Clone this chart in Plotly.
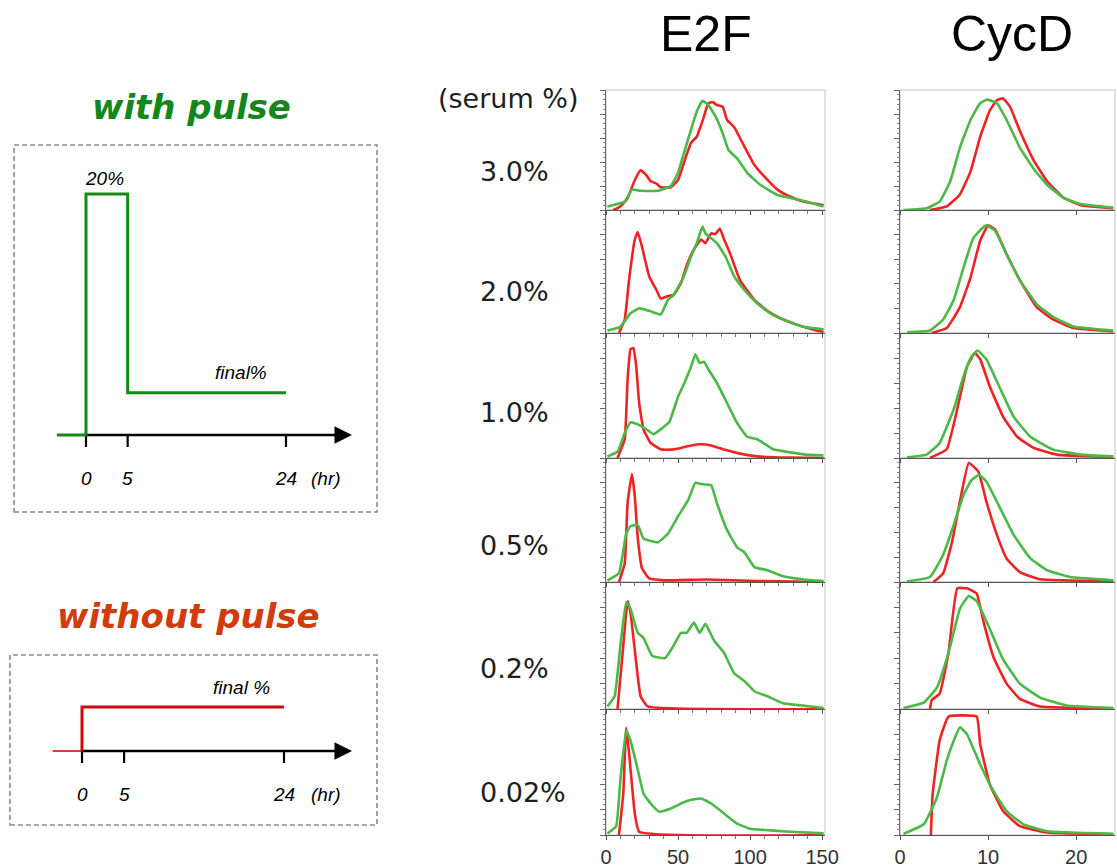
import plotly.graph_objects as go

W, H = 1117, 867

RED = "#ee2424"
GREEN = "#4cb848"
SCHEME_GREEN = "#138a13"
SCHEME_RED = "#cc0a0a"

# ---------------------------------------------------------------- data
serum_labels = ["3.0%", "2.0%", "1.0%", "0.5%", "0.2%", "0.02%"]
e2f_ticks = [0, 50, 100, 150]
cycd_ticks = [0, 10, 20]
time_ticks = [0, 5, 24]            # hr
pulse_level = 20                   # serum % during pulse
final_level = 3.5                  # schematic height of "final %"
pre_time = -3.5                    # start of drawn baseline (hr)
pulse_end = 5                      # hr
end_time = 24                      # hr

# E2F reporter histograms (normalised counts), red = without pulse, green = with pulse
e2f_30_red_x = [5, 10, 15, 20, 24, 28, 31, 35, 38, 45, 50, 54, 59, 63, 68, 71, 74, 77, 81, 84, 89, 96, 103, 109, 119, 128, 137, 151]
e2f_30_red_y = [0.0, 0.03, 0.1, 0.25, 0.33, 0.29, 0.24, 0.22, 0.19, 0.19, 0.25, 0.39, 0.56, 0.61, 0.78, 0.89, 0.90, 0.875, 0.86, 0.75, 0.69, 0.53, 0.375, 0.29, 0.17, 0.11, 0.07, 0.04]
e2f_30_green_x = [1, 13, 18, 24, 36, 45, 50, 54, 59, 63, 67, 71, 76, 81, 85, 91, 98, 107, 119, 128, 139, 151]
e2f_30_green_y = [0.03, 0.07, 0.17, 0.16, 0.16, 0.2, 0.31, 0.47, 0.67, 0.82, 0.91, 0.875, 0.78, 0.64, 0.5, 0.43, 0.31, 0.21, 0.125, 0.1, 0.07, 0.03]

e2f_20_red_x = [9, 13, 16, 20, 22, 25, 30, 35, 38, 43, 47, 52, 56, 61, 66, 69, 73, 76, 79, 82, 86, 93, 103, 112, 121, 132, 146, 151]
e2f_20_red_y = [0.0, 0.11, 0.43, 0.76, 0.82, 0.70, 0.46, 0.35, 0.28, 0.30, 0.31, 0.405, 0.55, 0.68, 0.76, 0.73, 0.81, 0.805, 0.85, 0.76, 0.65, 0.43, 0.27, 0.18, 0.12, 0.07, 0.02, 0.01]
e2f_20_green_x = [1, 10, 17, 23, 30, 38, 43, 47, 54, 59, 63, 67, 69, 73, 77, 83, 89, 96, 105, 114, 126, 137, 151]
e2f_20_green_y = [0.02, 0.05, 0.16, 0.2, 0.18, 0.15, 0.27, 0.31, 0.46, 0.62, 0.73, 0.865, 0.81, 0.77, 0.73, 0.62, 0.46, 0.35, 0.24, 0.16, 0.095, 0.05, 0.03]

e2f_10_red_x = [8, 13, 15, 17, 19, 21, 23, 26, 31, 38, 45, 52, 59, 66, 73, 82, 93, 105, 128, 151]
e2f_10_red_y = [0.0, 0.15, 0.63, 0.87, 0.88, 0.73, 0.44, 0.23, 0.12, 0.07, 0.067, 0.08, 0.10, 0.11, 0.10, 0.067, 0.035, 0.013, 0.003, 0.0]
e2f_10_green_x = [1, 8, 13, 17, 22, 28, 33, 38, 44, 50, 54, 59, 62, 65, 68, 71, 77, 84, 91, 98, 105, 116, 128, 139, 151]
e2f_10_green_y = [0.013, 0.05, 0.2, 0.285, 0.27, 0.23, 0.19, 0.23, 0.29, 0.49, 0.59, 0.73, 0.83, 0.76, 0.77, 0.71, 0.6, 0.44, 0.28, 0.17, 0.15, 0.07, 0.045, 0.027, 0.02]

e2f_05_red_x = [9, 13, 15, 18, 20, 22, 25, 30, 40, 70, 105, 151]
e2f_05_red_y = [0.0, 0.15, 0.64, 0.87, 0.69, 0.36, 0.11, 0.03, 0.013, 0.02, 0.008, 0.0]
e2f_05_green_x = [1, 9, 14, 17, 22, 26, 36, 43, 50, 57, 62, 66, 73, 77, 84, 91, 96, 103, 112, 123, 137, 151]
e2f_05_green_y = [0.013, 0.07, 0.39, 0.45, 0.46, 0.35, 0.32, 0.39, 0.53, 0.66, 0.80, 0.79, 0.78, 0.635, 0.42, 0.28, 0.24, 0.12, 0.095, 0.046, 0.02, 0.008]

e2f_02_red_x = [8, 12, 15, 17, 21, 24, 29, 151]
e2f_02_red_y = [0.0, 0.5, 0.85, 0.76, 0.36, 0.1, 0.02, 0.0]
e2f_02_green_x = [1, 6, 10, 14, 17, 22, 26, 32, 41, 47, 52, 56, 61, 65, 69, 75, 82, 89, 96, 103, 112, 123, 139, 151]
e2f_02_green_y = [0.02, 0.1, 0.5, 0.84, 0.79, 0.6, 0.56, 0.42, 0.40, 0.5, 0.6, 0.6, 0.68, 0.6, 0.67, 0.54, 0.44, 0.28, 0.22, 0.14, 0.1, 0.045, 0.024, 0.008]

e2f_002_red_x = [9, 12, 14, 16, 20, 23, 151]
e2f_002_red_y = [0.0, 0.33, 0.85, 0.65, 0.17, 0.026, 0.0]
e2f_002_green_x = [1, 7, 10, 14, 17, 22, 26, 31, 37, 45, 54, 59, 66, 73, 82, 91, 100, 110, 128, 151]
e2f_002_green_y = [0.013, 0.066, 0.44, 0.83, 0.75, 0.52, 0.33, 0.25, 0.185, 0.21, 0.26, 0.28, 0.29, 0.25, 0.17, 0.09, 0.05, 0.04, 0.026, 0.013]

# CycD reporter histograms
cycd_30_red_x = [3.4, 5.3, 6.8, 8, 9.1, 10.2, 11, 11.7, 12.5, 13.6, 15.2, 16.7, 18.6, 20.5, 24.2]
cycd_30_red_y = [0.0, 0.03, 0.13, 0.32, 0.61, 0.83, 0.915, 0.93, 0.86, 0.66, 0.41, 0.24, 0.1, 0.04, 0.014]
cycd_30_green_x = [0.4, 3, 4.5, 5.7, 6.8, 8, 9.1, 9.9, 11, 12.1, 13.6, 15.2, 16.7, 18.6, 20.5, 24.2]
cycd_30_green_y = [0.0, 0.014, 0.07, 0.24, 0.52, 0.75, 0.89, 0.92, 0.89, 0.75, 0.52, 0.34, 0.21, 0.1, 0.05, 0.02]

cycd_20_red_x = [3.6, 5.3, 6.8, 8, 9.1, 10, 10.8, 12.1, 13.6, 15.5, 17.4, 19.7, 24.2]
cycd_20_red_y = [0.0, 0.04, 0.21, 0.45, 0.75, 0.875, 0.84, 0.64, 0.43, 0.21, 0.11, 0.04, 0.013]
cycd_20_green_x = [0.8, 3.4, 4.9, 6.1, 7.2, 8.3, 9.3, 9.8, 10.8, 12.1, 13.6, 15.5, 17.4, 19.7, 24.2]
cycd_20_green_y = [0.005, 0.02, 0.11, 0.27, 0.53, 0.77, 0.85, 0.875, 0.83, 0.64, 0.43, 0.235, 0.13, 0.053, 0.02]

cycd_10_red_x = [3.4, 5.3, 6.4, 7.6, 8.5, 9.1, 10.2, 11.7, 13.3, 15.2, 17.8, 24.2]
cycd_10_red_y = [0.0, 0.07, 0.36, 0.73, 0.84, 0.79, 0.57, 0.33, 0.17, 0.08, 0.027, 0.008]
cycd_10_green_x = [0.8, 3, 4.5, 6.1, 7.2, 8.1, 8.8, 9.8, 11.4, 12.9, 14.8, 17.4, 20.5, 24.2]
cycd_10_green_y = [0.005, 0.027, 0.12, 0.39, 0.65, 0.81, 0.86, 0.79, 0.55, 0.33, 0.17, 0.067, 0.027, 0.013]

cycd_05_red_x = [3.8, 4.9, 5.9, 6.8, 7.8, 8.9, 9.8, 11, 12.1, 13.6, 15.9, 24.2]
cycd_05_red_y = [0.0, 0.07, 0.32, 0.65, 0.96, 0.89, 0.65, 0.38, 0.19, 0.08, 0.022, 0.005]
cycd_05_green_x = [0.8, 3.4, 4.9, 6.1, 7.2, 8.1, 9, 9.8, 11.4, 12.9, 14.8, 16.7, 19.3, 24.2]
cycd_05_green_y = [0.005, 0.04, 0.22, 0.46, 0.70, 0.82, 0.865, 0.81, 0.59, 0.38, 0.19, 0.095, 0.04, 0.014]

cycd_02_red_x = [3.4, 3.6, 4.5, 5.5, 6.5, 7.6, 8.7, 9.5, 10.6, 12.1, 13.6, 15.9, 24.2]
cycd_02_red_y = [0.0, 0.07, 0.12, 0.44, 0.95, 0.95, 0.91, 0.68, 0.41, 0.2, 0.08, 0.02, 0.005]
cycd_02_green_x = [0.4, 2.7, 4.2, 5.5, 6.8, 7.8, 8.7, 10.2, 11.7, 13.6, 15.9, 18.9, 24.2]
cycd_02_green_y = [0.008, 0.05, 0.17, 0.44, 0.79, 0.89, 0.85, 0.63, 0.39, 0.2, 0.09, 0.027, 0.008]

cycd_002_red_x = [3.5, 3.7, 4.5, 5.5, 8.7, 9.1, 10.2, 11.7, 13.6, 16.7, 24.2]
cycd_002_red_y = [0.0, 0.32, 0.75, 0.94, 0.94, 0.72, 0.40, 0.19, 0.07, 0.02, 0.005]
cycd_002_green_x = [0.4, 2.7, 4.2, 5.3, 6.25, 6.8, 7.6, 9.1, 10.6, 12.1, 14, 16.7, 24.2]
cycd_002_green_y = [0.01, 0.085, 0.3, 0.59, 0.775, 0.855, 0.80, 0.56, 0.35, 0.19, 0.085, 0.03, 0.01]

e2f_rows = [
    (e2f_30_red_x, e2f_30_red_y, e2f_30_green_x, e2f_30_green_y),
    (e2f_20_red_x, e2f_20_red_y, e2f_20_green_x, e2f_20_green_y),
    (e2f_10_red_x, e2f_10_red_y, e2f_10_green_x, e2f_10_green_y),
    (e2f_05_red_x, e2f_05_red_y, e2f_05_green_x, e2f_05_green_y),
    (e2f_02_red_x, e2f_02_red_y, e2f_02_green_x, e2f_02_green_y),
    (e2f_002_red_x, e2f_002_red_y, e2f_002_green_x, e2f_002_green_y),
]
cycd_rows = [
    (cycd_30_red_x, cycd_30_red_y, cycd_30_green_x, cycd_30_green_y),
    (cycd_20_red_x, cycd_20_red_y, cycd_20_green_x, cycd_20_green_y),
    (cycd_10_red_x, cycd_10_red_y, cycd_10_green_x, cycd_10_green_y),
    (cycd_05_red_x, cycd_05_red_y, cycd_05_green_x, cycd_05_green_y),
    (cycd_02_red_x, cycd_02_red_y, cycd_02_green_x, cycd_02_green_y),
    (cycd_002_red_x, cycd_002_red_y, cycd_002_green_x, cycd_002_green_y),
]

# ---------------------------------------------------------------- layout helpers
ROW_EDGES = [90, 210, 333, 458, 582, 709, 835]   # pixel rows of the histogram grid
E2F_PX = (606, 825)
CYCD_PX = (900, 1115)
LABEL_FONT = "DejaVu Sans"
TICK_FONT = "Liberation Sans"


def xdom(a, b):
    return [a / W, b / W]


def ydom(top, bottom):
    return [1 - bottom / H, 1 - top / H]


def ax_names(n):
    return ("x" if n == 1 else f"x{n}"), ("y" if n == 1 else f"y{n}")


def layout_keys(n):
    return ("xaxis" if n == 1 else f"xaxis{n}"), ("yaxis" if n == 1 else f"yaxis{n}")


fig = go.Figure()
layout = {}
shapes = []
annotations = []


def add_panel(n, xpx, xrange, ticks, minor_dtick, row, curves):
    xn, yn = ax_names(n)
    xk, yk = layout_keys(n)
    rx, ry, gx, gy = curves
    line_kw = dict(width=2.6, shape="spline", smoothing=0.35)
    fig.add_trace(go.Scatter(x=rx, y=ry, xaxis=xn, yaxis=yn, mode="lines",
                             line=dict(color=RED, **line_kw), hoverinfo="skip", showlegend=False))
    fig.add_trace(go.Scatter(x=gx, y=gy, xaxis=xn, yaxis=yn, mode="lines",
                             line=dict(color=GREEN, **line_kw), hoverinfo="skip", showlegend=False))
    xa = dict(domain=xdom(*xpx), range=xrange, anchor=yn, showgrid=False, zeroline=False,
              showline=True, linecolor="#555", linewidth=1.2,
              ticks="outside", ticklen=4, tickwidth=1, tickcolor="#555",
              tickvals=ticks, ticktext=[str(t) for t in ticks],
              showticklabels=(row == 5), automargin=False,
              tickfont=dict(family=TICK_FONT, size=20, color="#333"),
              fixedrange=True)
    if minor_dtick:
        xa["minor"] = dict(ticks="outside", ticklen=2.5, tickcolor="#777", tick0=0, dtick=minor_dtick)
    ya = dict(domain=ydom(ROW_EDGES[row], ROW_EDGES[row + 1]), range=[0, 1], anchor=xn,
              showgrid=False, zeroline=False, showline=True, linecolor="#666", linewidth=1,
              ticks="outside", ticklen=5, tickwidth=1, tickcolor="#666", tick0=0, dtick=0.2,
              minor=dict(ticks="outside", ticklen=2.5, tickcolor="#888", tick0=0, dtick=0.04),
              showticklabels=False, automargin=False, fixedrange=True)
    layout[xk] = xa
    layout[yk] = ya
    shapes.append(dict(type="rect", xref=f"{xn} domain", yref=f"{yn} domain",
                       x0=0, x1=1, y0=0, y1=1, line=dict(color="#c4c4c4", width=1), layer="below"))


for i in range(6):
    add_panel(2 * i + 1, E2F_PX, [0, 152], e2f_ticks, 10, i, e2f_rows[i])
    add_panel(2 * i + 2, CYCD_PX, [0, 24.4], cycd_ticks, None, i, cycd_rows[i])

# ---------------------------------------------------------------- headers & serum labels
annotations.append(dict(text="E2F", x=706 / W, y=1 - 34 / H, xref="paper", yref="paper",
                        showarrow=False, xanchor="center", yanchor="middle",
                        font=dict(family=TICK_FONT, size=50, color="black")))
annotations.append(dict(text="CycD", x=1012 / W, y=1 - 34 / H, xref="paper", yref="paper",
                        showarrow=False, xanchor="center", yanchor="middle",
                        font=dict(family=TICK_FONT, size=50, color="black")))
annotations.append(dict(text="(serum %)", x=436 / W, y=1 - 98 / H, xref="paper", yref="paper",
                        showarrow=False, xanchor="left", yanchor="middle",
                        font=dict(family=LABEL_FONT, size=27, color="#1e1e1e")))
label_px_y = [171, 291, 412, 545, 668, 792]
for lab, ly in zip(serum_labels, label_px_y):
    annotations.append(dict(text=lab, x=478 / W, y=1 - ly / H, xref="paper", yref="paper",
                            showarrow=False, xanchor="left", yanchor="middle",
                            font=dict(family=LABEL_FONT, size=27, color="#1e1e1e")))

# ---------------------------------------------------------------- protocol schematics


def span(p_lo, p_hi, p_zero, px_per_unit):
    return [(p_lo - p_zero) / px_per_unit, (p_hi - p_zero) / px_per_unit]


def add_schematic(n, box, x_zero, x_24, y_axis_px, level_px, level_value, color,
                  path_x, path_y, thin_x, thin_y, level_text, title, title_color, title_px,
                  pulse_label):
    xn, yn = ax_names(n)
    xk, yk = layout_keys(n)
    left, top, right, bottom = box
    xppu = (x_24 - x_zero) / end_time
    yppu = (y_axis_px - level_px) / level_value
    layout[xk] = dict(domain=xdom(left, right), range=span(left, right, x_zero, xppu),
                      anchor=yn, visible=False, fixedrange=True)
    layout[yk] = dict(domain=ydom(top, bottom),
                      range=[(y_axis_px - bottom) / yppu, (y_axis_px - top) / yppu],
                      anchor=xn, visible=False, fixedrange=True)
    shapes.append(dict(type="rect", xref=f"{xn} domain", yref=f"{yn} domain",
                       x0=0, x1=1, y0=0, y1=1,
                       line=dict(color="#8c8c8c", width=1.6, dash="5px,3px")))
    tick_down = 12 / yppu
    tx, ty = [], []
    for t in time_ticks:
        tx += [t, t, None]
        ty += [0, -tick_down, None]
    arrow_tip = (352 - x_zero) / xppu
    fig.add_trace(go.Scatter(x=[0, arrow_tip - 0.6], y=[0, 0], xaxis=xn, yaxis=yn, mode="lines",
                             line=dict(color="black", width=2.5), hoverinfo="skip", showlegend=False))
    fig.add_trace(go.Scatter(x=tx, y=ty, xaxis=xn, yaxis=yn, mode="lines",
                             line=dict(color="black", width=2.2), hoverinfo="skip", showlegend=False))
    annotations.append(dict(x=arrow_tip, y=0, ax=arrow_tip - 2, ay=0, xref=xn, yref=yn,
                            axref=xn, ayref=yn, text="", showarrow=True, arrowhead=2,
                            arrowsize=1.4, arrowwidth=2.5, arrowcolor="black"))
    if thin_x:
        fig.add_trace(go.Scatter(x=thin_x, y=thin_y, xaxis=xn, yaxis=yn, mode="lines",
                                 line=dict(color=color, width=1.6), hoverinfo="skip", showlegend=False))
    fig.add_trace(go.Scatter(x=path_x, y=path_y, xaxis=xn, yaxis=yn, mode="lines",
                             line=dict(color=color, width=3), hoverinfo="skip", showlegend=False))
    lab_y = -(43) / yppu
    for t in time_ticks:
        annotations.append(dict(text=f"<i>{t}</i>", x=t, y=lab_y, xref=xn, yref=yn,
                                showarrow=False, xanchor="center", yanchor="middle",
                                font=dict(family=TICK_FONT, size=19, color="black")))
    annotations.append(dict(text="<i>(hr)</i>", x=(326 - x_zero) / xppu, y=lab_y, xref=xn, yref=yn,
                            showarrow=False, xanchor="center", yanchor="middle",
                            font=dict(family=TICK_FONT, size=19, color="black")))
    annotations.append(dict(text=f"<i>{level_text}</i>", x=(241 - x_zero) / xppu,
                            y=final_level + 20 / yppu, xref=xn, yref=yn,
                            showarrow=False, xanchor="center", yanchor="middle",
                            font=dict(family=TICK_FONT, size=19, color="black")))
    if pulse_label:
        annotations.append(dict(text=f"<i>{pulse_label}</i>", x=(104 - x_zero) / xppu,
                                y=pulse_level + 16 / yppu, xref=xn, yref=yn,
                                showarrow=False, xanchor="center", yanchor="middle",
                                font=dict(family=TICK_FONT, size=19, color="black")))
    annotations.append(dict(text=f"<b><i>{title}</i></b>", x=title_px[0] / W, y=1 - title_px[1] / H,
                            xref="paper", yref="paper", showarrow=False,
                            xanchor="center", yanchor="middle",
                            font=dict(family=LABEL_FONT, size=34, color=title_color)))


# with pulse: 20% for 5 hr, then final %
add_schematic(13, (14, 145, 377, 512), 86, 286, 435, 194, pulse_level, SCHEME_GREEN,
              [pre_time, 0, 0, pulse_end, pulse_end, end_time],
              [0, 0, pulse_level, pulse_level, final_level, final_level],
              None, None, "final%", "with pulse", "#13871a", (191, 107), f"{pulse_level}%")

# without pulse: straight to final %
add_schematic(14, (10, 655, 377, 825), 82, 284, 751, 707, final_level, SCHEME_RED,
              [0, 0, end_time], [0, final_level, final_level],
              [pre_time, 0], [0, 0], "final %", "without pulse", "#d03c0c", (188, 616), None)

fig.update_layout(
    width=W, height=H,
    margin=dict(l=0, r=0, t=0, b=0, pad=0, autoexpand=False),
    paper_bgcolor="white", plot_bgcolor="rgba(0,0,0,0)",
    shapes=shapes, annotations=annotations, showlegend=False,
    **layout,
)

fig.write_html("out.html", config={"displayModeBar": False})
